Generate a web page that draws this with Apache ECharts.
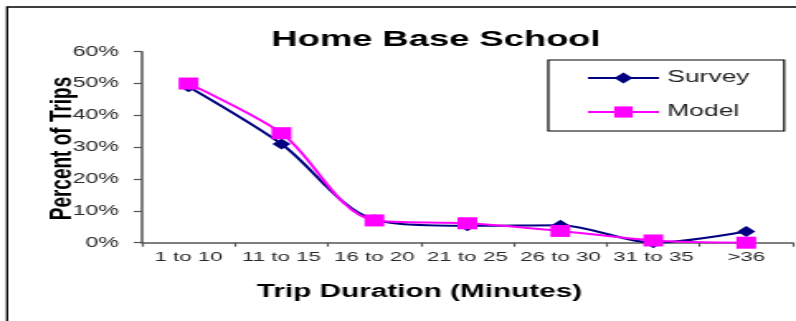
<!DOCTYPE html>
<html>
<head>
<meta charset="utf-8">
<script src="https://cdn.jsdelivr.net/npm/echarts@6/dist/echarts.min.js"></script>
<style>
  html, body { margin: 0; padding: 0; background: #fff; overflow: hidden; }
  #wrap { width: 796px; height: 321px; overflow: hidden; }
  /* the chart is laid out narrow and widened horizontally */
  #chart { width: 482px; height: 321px; transform: scaleX(1.6515); transform-origin: 0 0; }
</style>
</head>
<body>
<div id="wrap"><div id="chart"></div></div>
<script>
const categories = ['1 to 10', '11 to 15', '16 to 20', '21 to 25', '26 to 30', '31 to 35', '>36'];
const surveyValues = [49, 31, 7.2, 5.3, 5.5, 0, 3.5];
const modelValues = [50, 34.4, 7, 6.1, 3.7, 0.7, 0];
const yTicks = { min: 0, max: 60, interval: 10 };

const chartTitle = 'Home Base School';
const xName = 'Trip Duration (Minutes)';
const yName = 'Percent of Trips';

const font = "'Liberation Sans', Arial, sans-serif";
const chart = echarts.init(document.getElementById('chart'));

chart.setOption({
  animation: false,
  backgroundColor: '#fff',
  grid: { left: 86, right: 2, top: 51.7, bottom: 78.3, containLabel: false },
  legend: {
    orient: 'vertical',
    left: 332,
    top: 60,
    padding: [10, 21, 11, 23],
    itemWidth: 43,
    itemHeight: 14,
    itemGap: 18,
    borderColor: '#000',
    borderWidth: 1.2,
    textStyle: { fontFamily: font, fontSize: 16, color: '#222' },
    data: ['Survey', 'Model']
  },
  xAxis: {
    type: 'category',
    data: categories,
    boundaryGap: true,
    axisLine: { lineStyle: { color: '#555', width: 1.5 } },
    axisTick: { show: true, length: 4, lineStyle: { color: '#555', width: 1.2 } },
    axisLabel: { interval: 0, margin: 8, fontFamily: font, fontSize: 13.5, color: '#2a2a2a' },
    splitLine: { show: false }
  },
  yAxis: {
    type: 'value',
    min: yTicks.min,
    max: yTicks.max,
    interval: yTicks.interval,
    axisLine: { show: true, lineStyle: { color: '#555', width: 1.5 } },
    axisTick: { show: true, length: 5, lineStyle: { color: '#555', width: 1.2 } },
    axisLabel: { margin: 14, fontFamily: font, fontSize: 14, color: '#2a2a2a', formatter: '{value}%' },
    splitLine: { show: false }
  },
  series: [
    {
      name: 'Survey',
      type: 'line',
      data: surveyValues,
      smooth: 0.3,
      symbol: 'diamond',
      symbolSize: 11,
      lineStyle: { color: '#000080', width: 2 },
      itemStyle: { color: '#000080' }
    },
    {
      name: 'Model',
      type: 'line',
      data: modelValues,
      smooth: 0.3,
      symbol: 'rect',
      symbolSize: 12,
      lineStyle: { color: '#FF00FF', width: 2 },
      itemStyle: { color: '#FF00FF' }
    }
  ],
  graphic: [
    {
      type: 'rect',
      shape: { x: 4.3, y: 7, width: 600, height: 400 },
      style: { fill: 'none', stroke: '#000', lineWidth: 1.3 },
      silent: true
    },
    {
      type: 'text',
      x: 264, y: 39.5,
      style: { text: chartTitle, font: 'bold 22px ' + font, fill: '#000', textAlign: 'center', textVerticalAlign: 'middle' }
    },
    {
      type: 'text',
      x: 254, y: 292,
      style: { text: xName, font: 'bold 18px ' + font, fill: '#000', textAlign: 'center', textVerticalAlign: 'middle' }
    },
    {
      type: 'text',
      x: 38.2, y: 148.5,
      rotation: Math.PI / 2,
      style: { text: yName, font: 'bold 19px ' + font, fill: '#000', textAlign: 'center', textVerticalAlign: 'middle' }
    }
  ]
});
</script>
</body>
</html>
